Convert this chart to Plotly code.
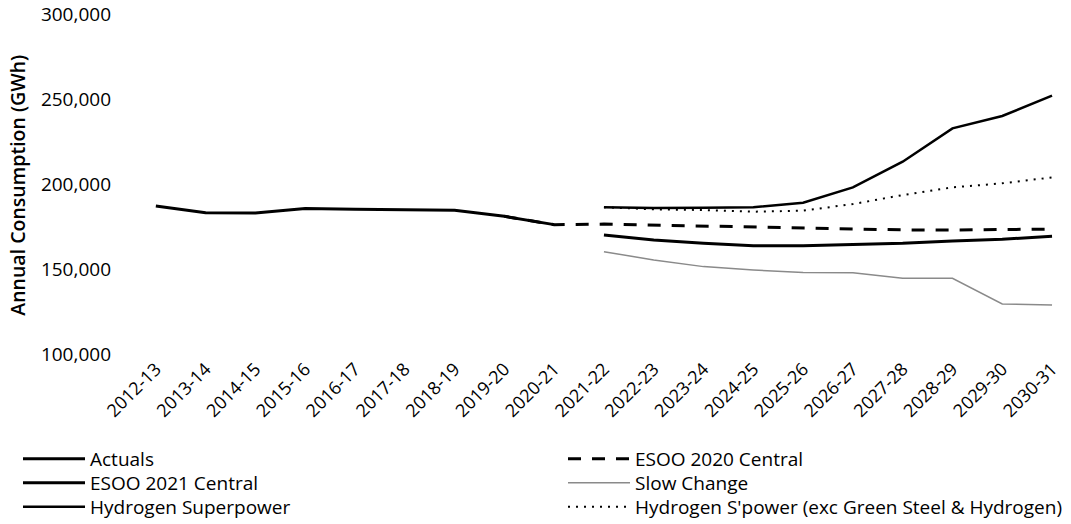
import plotly.graph_objects as go

# Financial years on the category axis
years = ["2012-13", "2013-14", "2014-15", "2015-16", "2016-17", "2017-18",
         "2018-19", "2019-20", "2020-21", "2021-22", "2022-23", "2023-24",
         "2024-25", "2025-26", "2026-27", "2027-28", "2028-29", "2029-30",
         "2030-31"]

# Annual consumption (GWh)
actual_years = years[:9]
actuals = [187000, 183100, 182900, 185600, 185100, 185000, 184500, 181000, 176100]

esoo2020_years = years[7:]
esoo2020 = [181000, 176100, 176400, 175800, 175100, 174400, 173800, 173300,
            173000, 172900, 173100, 173500]

forecast_years = years[9:]
esoo2021 = [170000, 167000, 165100, 163700, 163700, 164200, 165100, 166500,
            167500, 169200]
slow_change = [160200, 155300, 151400, 149400, 148000, 147800, 144500, 144500,
               129400, 128800]
h2_superpower = [186300, 185900, 186000, 186300, 189000, 198000, 213100, 232700,
                 240000, 252000]
h2_exc = [186300, 185100, 184700, 183700, 184300, 188200, 193500, 198000,
          200400, 203900]

y_ticks = [100000, 150000, 200000, 250000, 300000]

FONT = "Open Sans"
W, H = 1071, 524
M_LEFT, M_RIGHT = 120, 10

fig = go.Figure()
fig.add_trace(go.Scatter(x=actual_years, y=actuals, name="Actuals", mode="lines",
                         line=dict(color="#000000", width=3), legend="legend"))
fig.add_trace(go.Scatter(x=esoo2020_years, y=esoo2020, name="ESOO 2020 Central",
                         mode="lines", legend="legend2",
                         line=dict(color="#000000", width=3, dash="13px,11px")))
fig.add_trace(go.Scatter(x=forecast_years, y=esoo2021, name="ESOO 2021 Central",
                         mode="lines", line=dict(color="#000000", width=3),
                         legend="legend3"))
fig.add_trace(go.Scatter(x=forecast_years, y=slow_change, name="Slow Change",
                         mode="lines", line=dict(color="#8a8a8a", width=1.5),
                         legend="legend4"))
fig.add_trace(go.Scatter(x=forecast_years, y=h2_superpower, name="Hydrogen Superpower",
                         mode="lines", line=dict(color="#000000", width=2.5),
                         legend="legend5"))
fig.add_trace(go.Scatter(x=forecast_years, y=h2_exc,
                         name="Hydrogen S'power (exc Green Steel & Hydrogen)",
                         mode="lines", legend="legend6",
                         line=dict(color="#000000", width=2, dash="2px,6px")))

# Two-column key: one single-entry legend per slot (left col, right col) x 3 rows
col_x = [18, 563]
row_y = [459, 483, 507]
legend_boxes = {}
for i, name in enumerate(["legend", "legend2", "legend3", "legend4", "legend5", "legend6"]):
    legend_boxes[name] = dict(
        xref="container", yref="container",
        x=col_x[i % 2] / W, y=1 - row_y[i // 2] / H,
        xanchor="left", yanchor="middle",
        font=dict(family=FONT, size=19, color="#000000"),
        bgcolor="rgba(0,0,0,0)", itemwidth=62, borderwidth=0,
    )

plot_w = W - M_LEFT - M_RIGHT

fig.update_layout(
    width=W, height=H,
    margin=dict(l=M_LEFT, r=M_RIGHT, t=14, b=170, autoexpand=False),
    paper_bgcolor="white", plot_bgcolor="white",
    font=dict(family=FONT, color="#000000", size=18),
    showlegend=True,
    **legend_boxes,
    xaxis=dict(
        type="category", categoryorder="array", categoryarray=years,
        range=[-0.72, 18.18], tickangle=-45, showgrid=False, showline=False,
        zeroline=False, ticks="", tickfont=dict(size=18),
    ),
    yaxis=dict(
        range=[100000, 300000], tickvals=y_ticks, tickformat=",d",
        showgrid=False, showline=False, zeroline=False, ticks="",
        tickfont=dict(size=19), ticklabelstandoff=8,
    ),
    annotations=[dict(
        text="Annual Consumption (GWh)", textangle=-90, showarrow=False,
        xref="paper", yref="paper", x=(18 - M_LEFT) / plot_w, y=0.495,
        xanchor="center", yanchor="middle",
        font=dict(family=FONT, size=19.5, weight=600, color="#000000"),
    )],
)

fig.write_html("out.html")
